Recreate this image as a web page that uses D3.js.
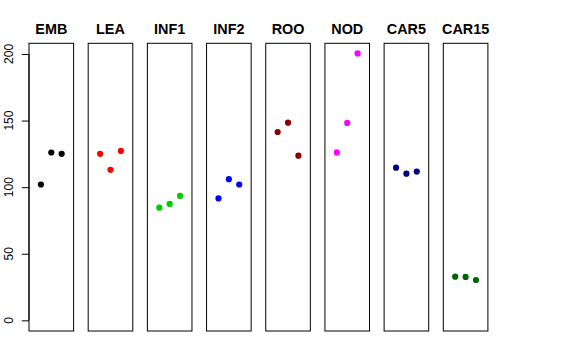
<!DOCTYPE html>
<html><head><meta charset="utf-8">
<script src="https://cdn.jsdelivr.net/npm/d3@7"></script>
<style>body{margin:0;background:#fff}svg{display:block}text{font-family:"Liberation Sans",Arial,sans-serif}</style>
</head><body>
<svg id="c" width="576" height="360"></svg>
<script>
const categories = ["EMB","LEA","INF1","INF2","ROO","NOD","CAR5","CAR15"];
const colors = ["#000000","#FF0000","#00CD00","#0000FF","#8B0000","#FF00FF","#000080","#006400"];
const EMB = [102, 126, 125];
const LEA = [125, 113, 127.2];
const INF1 = [84.6, 87.4, 93.4];
const INF2 = [91.5, 106, 102];
const ROO = [141.4, 148.4, 123.6];
const NOD = [126.1, 148.2, 200.4];
const CAR5 = [114.6, 110.1, 111.7];
const CAR15 = [32.8, 32.6, 30.3];
const series = [EMB, LEA, INF1, INF2, ROO, NOD, CAR5, CAR15];
const yTicks = [0, 50, 100, 150, 200];

const svg = d3.select("#c");
const plotTop = 43.3, plotBottom = 331;
const y = d3.scaleLinear().domain([-8, 208]).range([plotBottom, plotTop]);
const panelX = d3.scaleLinear().domain([0, 7]).range([29, 443.3]);
const panelW = 44.6;

categories.forEach((cat, i) => {
  const x0 = panelX(i);
  const x = d3.scaleLinear().domain([-0.15, 4.15]).range([x0, x0 + panelW]);
  const g = svg.append("g");
  g.append("rect").attr("x", x0).attr("y", plotTop).attr("width", panelW).attr("height", plotBottom - plotTop)
    .attr("fill", "none").attr("stroke", "#000").attr("stroke-width", 1);
  g.append("text").attr("x", x0 + panelW / 2).attr("y", 34).attr("text-anchor", "middle")
    .attr("font-size", 14.4).attr("font-weight", "bold").text(cat);
  g.selectAll("circle").data(series[i]).join("circle")
    .attr("cx", (d, j) => x(j + 1)).attr("cy", d => y(d)).attr("r", 3.1)
    .attr("fill", colors[i]);
});

const ax = svg.append("g").attr("transform", "translate(29,0)")
  .call(d3.axisLeft(y).tickValues(yTicks).tickSize(7.2).tickFormat(""));
ax.select(".domain").remove();
ax.append("line").attr("x1", 0).attr("x2", 0).attr("y1", y(0)).attr("y2", y(200)).attr("stroke", "#000");
ax.selectAll(".tick line").attr("stroke", "#000");
yTicks.forEach(v => {
  svg.append("text").attr("transform", `translate(13,${y(v)}) rotate(-90)`)
    .attr("text-anchor", "middle").attr("font-size", 12).text(v);
});
</script>
</body></html>
